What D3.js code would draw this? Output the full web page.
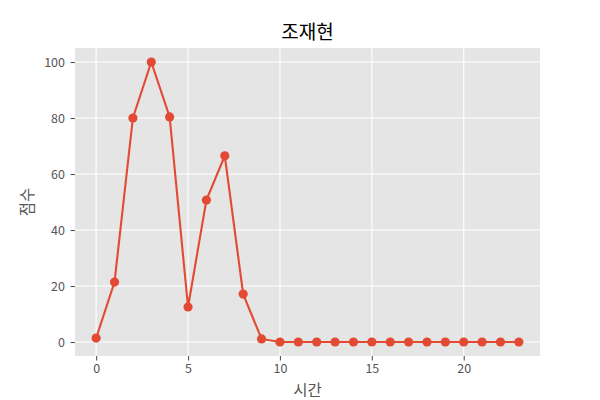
<!DOCTYPE html>
<html><head><meta charset="utf-8">
<script src="https://cdn.jsdelivr.net/npm/d3@7"></script>
<style>body{margin:0;background:#fff}svg{display:block}text{font-family:"Noto Sans CJK KR","Noto Sans",sans-serif}</style>
</head><body><svg id="c" width="600" height="400"></svg>
<script>
const hours = [0,1,2,3,4,5,6,7,8,9,10,11,12,13,14,15,16,17,18,19,20,21,22,23];
const scores = [1.4,21.4,80,100,80.4,12.5,50.7,66.5,17.1,1.1,0,0,0,0,0,0,0,0,0,0,0,0,0,0];
const xTicks = [0,5,10,15,20];
const yTicks = [0,20,40,60,80,100];
const title = "조재현", xLabel = "시간", yLabel = "점수";

const svg = d3.select("#c");
const L=75,R=540,T=48,B=356;
const x = d3.scaleLinear().domain([-1.15,24.15]).range([L,R]);
const y = d3.scaleLinear().domain([-5,105]).range([B,T]);

svg.append("rect").attr("x",L).attr("y",T).attr("width",R-L).attr("height",B-T).attr("fill","#E5E5E5");
const g = svg.append("g");
g.selectAll(".gx").data(xTicks).join("line").attr("x1",d=>x(d)).attr("x2",d=>x(d)).attr("y1",T).attr("y2",B).attr("stroke","#fff").attr("stroke-width",1.1);
g.selectAll(".gy").data(yTicks).join("line").attr("y1",d=>y(d)).attr("y2",d=>y(d)).attr("x1",L).attr("x2",R).attr("stroke","#fff").attr("stroke-width",1.1);

const xa = svg.append("g").attr("transform",`translate(0,${B})`).call(d3.axisBottom(x).tickValues(xTicks).tickSize(4.5).tickPadding(4));
const ya = svg.append("g").attr("transform",`translate(${L},0)`).call(d3.axisLeft(y).tickValues(yTicks).tickSize(4.5).tickPadding(5.5));
[xa,ya].forEach(a=>{a.select(".domain").remove();a.selectAll("line").attr("stroke","#555555").attr("stroke-width",1.1);a.selectAll("text").attr("fill","#555555").style("font-size","12.5px").style("font-family","'Noto Sans CJK KR','Noto Sans',sans-serif");});

svg.append("path").datum(hours.map((h,i)=>[h,scores[i]])).attr("fill","none").attr("stroke","#E24A33").attr("stroke-width",2.1)
  .attr("d",d3.line().x(d=>x(d[0])).y(d=>y(d[1])));
svg.selectAll(".pt").data(hours.map((h,i)=>[h,scores[i]])).join("circle").attr("cx",d=>x(d[0])).attr("cy",d=>y(d[1])).attr("r",4.6).attr("fill","#E24A33");

svg.append("text").attr("x",(L+R)/2).attr("y",39).attr("text-anchor","middle").style("font-size","19px").attr("fill","#000").text(title);
svg.append("text").attr("x",(L+R)/2).attr("y",396).attr("text-anchor","middle").style("font-size","15.5px").attr("fill","#555555").text(xLabel);
svg.append("text").attr("transform",`translate(33,${(T+B)/2}) rotate(-90)`).attr("text-anchor","middle").style("font-size","15.5px").attr("fill","#555555").text(yLabel);
</script></body></html>
